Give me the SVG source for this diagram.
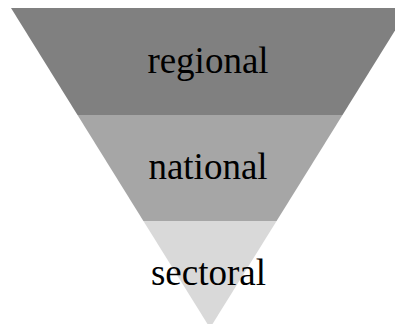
<svg xmlns="http://www.w3.org/2000/svg" width="395" height="324" viewBox="0 0 395 324">
<style>
text{font-family:"Liberation Serif","Times New Roman",serif;font-size:37px;fill:#000;text-anchor:middle}
</style>
<rect width="395" height="324" fill="#fff"/>
<g id="regional">
<polygon points="11,8 409,8 342.5,115 77.5,115" fill="#808080"/>
<text x="208" y="73">regional</text>
</g>
<g id="national">
<polygon points="77.5,115 342.5,115 276.6,221 143.4,221" fill="#a6a6a6"/>
<text x="208" y="179">national</text>
</g>
<g id="sectoral">
<polygon points="143.4,221 276.6,221 210,328" fill="#d9d9d9"/>
<text x="208.5" y="285">sectoral</text>
</g>
</svg>
